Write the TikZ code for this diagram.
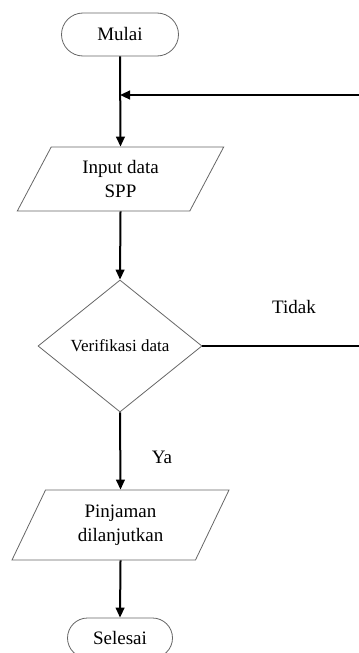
\documentclass[tikz,border=0pt]{standalone}
\usepackage{fontspec}
\setmainfont{Liberation Serif}
\usetikzlibrary{shapes.geometric,shapes.misc,arrows.meta}

\begin{document}
\begin{tikzpicture}[x=0.75pt,y=-0.75pt,
  outline/.style={draw=black!60, line width=0.6pt, fill=white, inner sep=0pt},
  terminal/.style={outline, rounded rectangle, font=\fontsize{14.25}{18}\selectfont},
  iobox/.style={outline, trapezium, trapezium stretches=true,
    align=center, font=\fontsize{14.25}{18}\selectfont},
  decision/.style={outline, diamond, font=\fontsize{12.75}{15}\selectfont},
  flow/.style={line width=1.5pt, -{Triangle[length=7.5pt,width=6.5pt]}},
  flowline/.style={line width=1.5pt},
  lbl/.style={font=\fontsize{14.25}{18}\selectfont}]

  \useasboundingbox (0,0) rectangle (358,653);

  % process steps
  \node[terminal, minimum width=87.75pt, minimum height=32.25pt] (mulai) at (120,34.5) {Mulai};
  \node[iobox, trapezium left angle=63.4, trapezium right angle=116.6,
        minimum width=155pt, minimum height=48pt] (input) at (120.5,179) {Input data\\SPP};
  \node[decision, minimum width=123pt, minimum height=99pt] (verif) at (120,346) {Verifikasi data};
  \node[iobox, trapezium left angle=64.8, trapezium right angle=115.2,
        minimum width=164pt, minimum height=52.5pt] (lanjut) at (120.5,525) {Pinjaman\\dilanjutkan};
  \node[terminal, minimum width=78.75pt, minimum height=30pt] (selesai) at (120,638) {Selesai};

  % loop-back points at the right edge
  \coordinate (join) at (120,95);
  \coordinate (backin) at (360,95);
  \coordinate (backout) at (360,346);

  % connectors
  \draw[flow] (mulai.south) -- (input.north);
  \draw[flow] (backin) -- (join);
  \draw[flow] (input.south) -- (verif.north);
  \draw[flow] (verif.south) -- (lanjut.north);
  \draw[flow] (lanjut.south) -- (selesai.north);
  \draw[flowline] (verif.east) -- (backout);

  % branch labels
  \node[lbl] (tidak) at (294,307) {Tidak};
  \node[lbl] (ya) at (162,457) {Ya};
\end{tikzpicture}
\end{document}
